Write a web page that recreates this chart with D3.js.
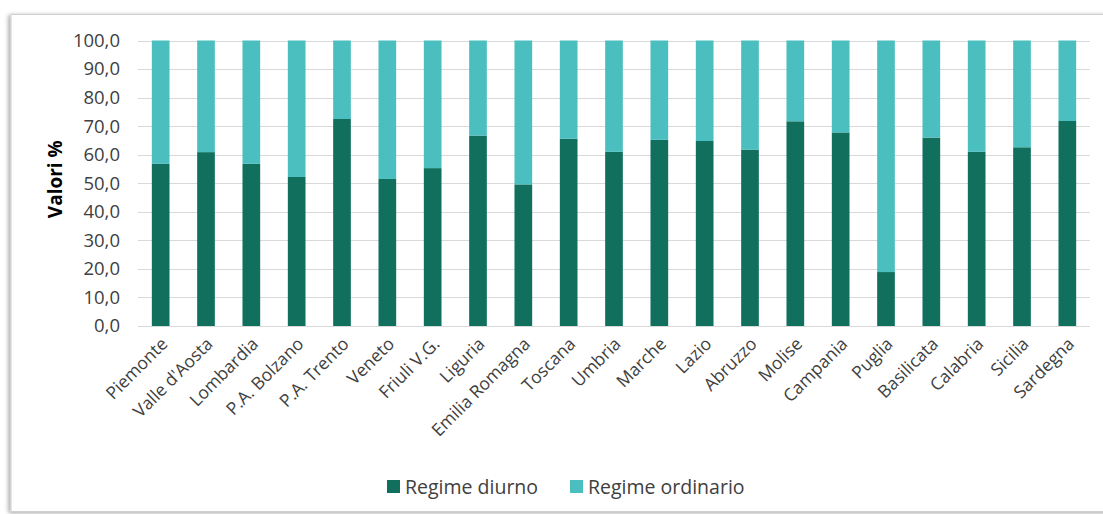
<!DOCTYPE html>
<html><head><meta charset="utf-8">
<script src="https://cdn.jsdelivr.net/npm/d3@7"></script>
<style>
html,body{margin:0;padding:0;background:#fff;}
svg{display:block;font-family:"Open Sans",sans-serif;}
</style></head>
<body>
<svg id="chart" width="1103" height="514"></svg>
<script>
const categories = ["Piemonte","Valle d'Aosta","Lombardia","P.A. Bolzano","P.A. Trento","Veneto","Friuli V.G.","Liguria","Emilia Romagna","Toscana","Umbria","Marche","Lazio","Abruzzo","Molise","Campania","Puglia","Basilicata","Calabria","Sicilia","Sardegna"];
const regimeDiurno = [56.8,60.9,56.8,52.2,72.5,51.5,55.3,66.7,49.6,65.6,61.0,65.2,64.8,61.8,71.7,67.8,18.9,66.0,61.0,62.6,71.8];
const regimeOrdinario = regimeDiurno.map(v => +(100 - v).toFixed(1));
const yTicks = [0,10,20,30,40,50,60,70,80,90,100];
const seriesNames = ["Regime diurno","Regime ordinario"];
const seriesColors = ["#116f5e","#4bbfbf"];

const svg = d3.select("#chart");

// frame with shadow
const defs = svg.append("defs");
const f = defs.append("filter").attr("id","sh").attr("x","-5%").attr("y","-5%").attr("width","110%").attr("height","110%");
f.append("feDropShadow").attr("dx",-2).attr("dy",1).attr("stdDeviation",2).attr("flood-color","#000").attr("flood-opacity",0.35);
svg.append("rect").attr("x",11).attr("y",14.5).attr("width",1100).attr("height",497)
  .attr("fill","#fff").attr("stroke","#d0d0d0").attr("stroke-width",1).attr("filter","url(#sh)");

const m = {left:138, right:1090, top:40.5, bottom:326};
const x = d3.scaleBand().domain(categories).range([m.left,m.right]).paddingInner(0.61).paddingOuter(0.305);
const y = d3.scaleLinear().domain([0,100]).range([m.bottom,m.top]);

// gridlines
svg.append("g").selectAll("line").data(yTicks.slice(1)).join("line")
  .attr("x1",m.left).attr("x2",m.right)
  .attr("y1",d=>Math.round(y(d))+0.5).attr("y2",d=>Math.round(y(d))+0.5)
  .attr("stroke","#d9d9d9").attr("stroke-width",1.2);

// y axis labels
const yAxis = d3.axisLeft(y).tickValues(yTicks).tickSize(0).tickPadding(18)
  .tickFormat(d=>d3.format(".1f")(d).replace(".",","));
const gy = svg.append("g").attr("transform",`translate(${m.left},0)`).call(yAxis);
gy.select(".domain").remove();
gy.selectAll("text").attr("fill","#404040").style("font-size","18.5px").style("font-family","'Open Sans', sans-serif");

// stacked bars
const rows = categories.map((c,i)=>({cat:c,"Regime diurno":regimeDiurno[i],"Regime ordinario":regimeOrdinario[i]}));
const stack = d3.stack().keys(seriesNames)(rows);
svg.append("g").selectAll("g").data(stack).join("g")
  .attr("fill",(d,i)=>seriesColors[i])
  .selectAll("rect").data(d=>d).join("rect")
  .attr("x",d=>x(d.data.cat)).attr("width",x.bandwidth())
  .attr("y",d=>y(d[1])).attr("height",d=>y(d[0])-y(d[1]));

// x axis line
svg.append("line").attr("x1",m.left).attr("x2",m.right).attr("y1",m.bottom+0.5).attr("y2",m.bottom+0.5)
  .attr("stroke","#d9d9d9").attr("stroke-width",1.2);

// x labels
const xAxis = d3.axisBottom(x).tickSize(0).tickPadding(0);
const gx = svg.append("g").attr("transform",`translate(0,${m.bottom})`).call(xAxis);
gx.select(".domain").remove();
gx.selectAll("text")
  .attr("fill","#404040").style("font-size","17.5px").style("font-family","'Open Sans', sans-serif")
  .attr("text-anchor","end").attr("dy",null).attr("y",0)
  .attr("transform","translate(8,19) rotate(-45)");

// y title
svg.append("text").attr("transform",`translate(62,${(m.top+m.bottom)/2 - 4}) rotate(-90)`)
  .attr("text-anchor","middle").attr("fill","#000").style("font-weight","bold").style("font-size","19px")
  .text("Valori %");

// legend
const legendX = [387, 570];
const lg = svg.append("g").selectAll("g").data(seriesNames).join("g")
  .attr("transform",(d,i)=>`translate(${legendX[i]},487)`);
lg.append("rect").attr("x",0).attr("y",-7).attr("width",13).attr("height",13).attr("fill",(d,i)=>seriesColors[i]);
lg.append("text").attr("x",18).attr("y",0).attr("dy","0.35em").attr("fill","#404040")
  .style("font-size","19.5px").text(d=>d);
</script>
</body></html>
